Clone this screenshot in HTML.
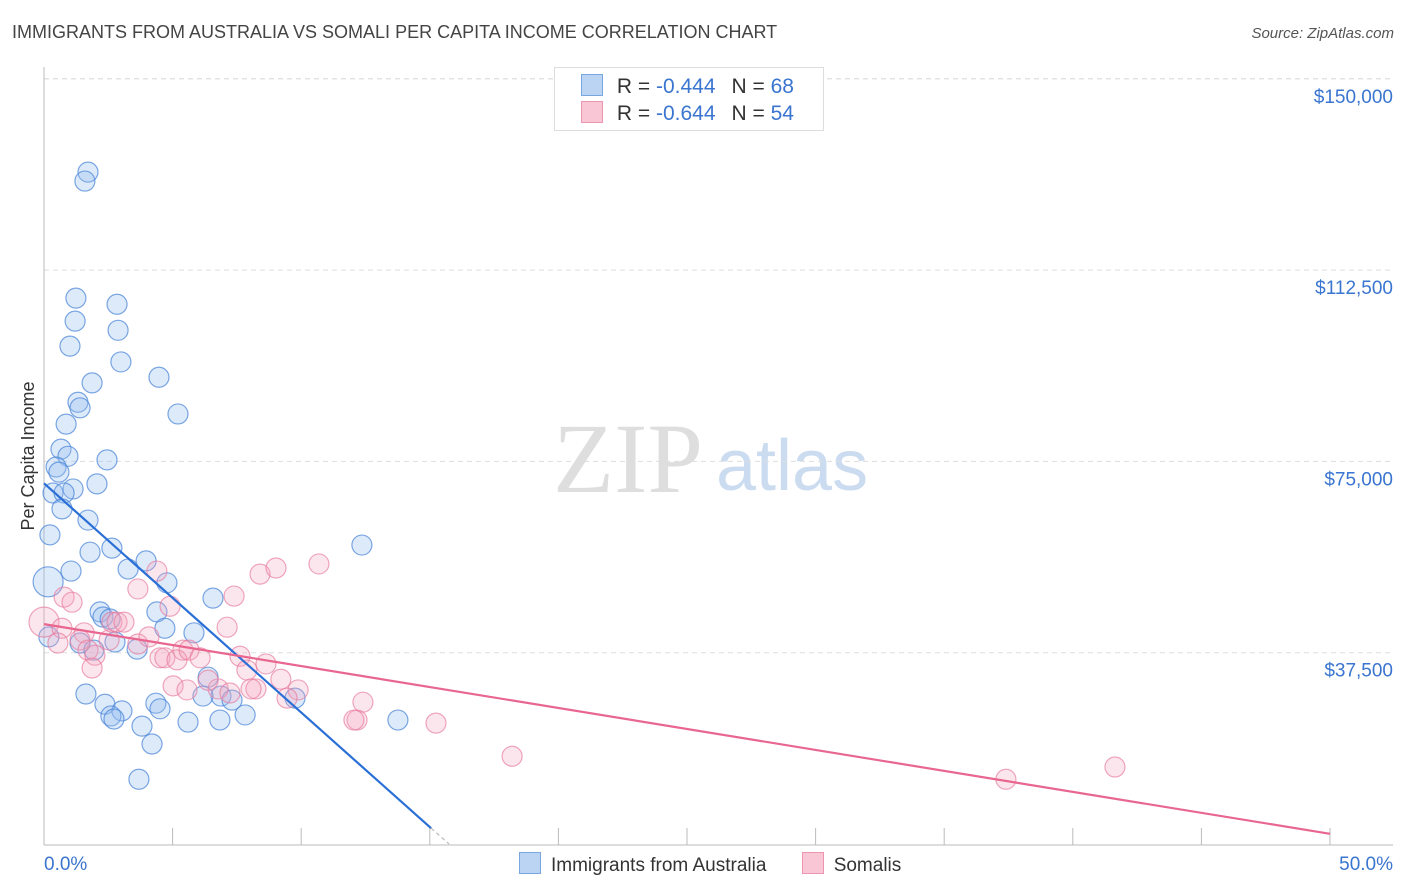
<!DOCTYPE html>
<html><head><meta charset="utf-8">
<style>
body{margin:0;background:#fff;font-family:"Liberation Sans",sans-serif;}
#wrap{position:relative;width:1406px;height:892px;overflow:hidden;}
.t{position:absolute;white-space:nowrap;}
</style></head>
<body>
<div id="wrap">
<div class="t" style="left:12px;top:22px;font-size:18px;color:#444;">IMMIGRANTS FROM AUSTRALIA VS SOMALI PER CAPITA INCOME CORRELATION CHART</div>
<div class="t" style="right:12px;top:25px;font-size:15px;color:#555;font-style:italic;">Source: ZipAtlas.com</div>
<svg id="chart" width="1406" height="892" style="position:absolute;left:0;top:0"></svg>
</div>
<script>
const yTicks=[37500,75000,112500,150000];
const yTickLabels=["$37,500","$75,000","$112,500","$150,000"];
const xTickLabels=["0.0%","50.0%"];
const blueX=[1.71,1.59,1.24,2.84,1.21,2.88,1.01,2.99,4.47,1.87,1.32,1.40,5.21,0.86,0.66,0.93,2.45,0.47,0.58,2.06,1.13,0.35,0.78,0.70,1.71,0.23,1.79,2.64,3.97,1.05,3.27,0.16,4.78,12.36,6.57,4.39,2.18,2.29,2.57,4.70,5.83,0.19,1.40,1.94,2.76,3.62,6.38,1.63,2.37,4.35,4.51,6.88,6.18,7.31,9.76,3.03,2.60,2.72,5.60,6.84,7.82,13.76,3.81,4.20,3.69];
const blueY=[131700,129950,107000,105800,102500,100700,97600,94500,91500,90400,86600,85500,84300,82300,77400,76000,75300,73900,72900,70600,69600,68800,68800,65700,63500,60600,57200,58000,55500,53500,53900,51400,51200,58600,48200,45500,45500,44500,44100,42300,41400,40600,39400,38000,39600,38200,32700,29400,27400,27600,26500,29000,29000,28200,28600,26100,25100,24500,23900,24300,25300,24300,23100,19600,12700];
const pinkX=[0,0.78,1.09,0.70,1.56,1.40,0.54,1.71,1.98,1.87,2.53,2.64,2.84,3.11,3.65,4.08,3.65,4.39,4.90,5.40,4.51,4.70,5.17,5.64,6.07,7.12,7.39,8.40,9.02,10.69,7.62,7.89,8.63,9.21,8.24,6.77,6.38,5.02,5.56,7.23,8.05,9.88,9.45,12.40,12.17,12.05,15.24,18.20,37.40,41.64];
const pinkY=[43500,48400,47400,42300,41400,40000,39400,38000,37000,34500,40000,43500,43500,43500,39200,40600,50000,53500,46600,38000,36500,36500,36100,38000,36500,42500,48600,52900,54100,54900,36800,34100,35300,32300,30400,30400,32100,31000,30200,29600,30400,30200,28600,27800,24300,24300,23700,17200,12700,15100];
const blueTrend=[[0,70700],[15.05,3100]];
const blueDash=[[15.05,3100],[15.75,0]];
const pinkTrend=[[0,43100],[50,2000]];

const X0=44,X1=1330,Y0=844,YPER=191.3/37500;
const sx=v=>X0+(X1-X0)*v/50;
const sy=v=>Y0-v*YPER;
const svg=document.getElementById('chart');
const NS='http://www.w3.org/2000/svg';
function mk(tag,at){const e=document.createElementNS(NS,tag);for(const k in at)e.setAttribute(k,at[k]);svg.appendChild(e);return e;}

let wm=mk('text',{x:553,y:492,'font-size':100,'font-family':'Liberation Serif,serif',fill:'#dedede'});wm.textContent='ZIP';


let wm2=mk('text',{x:716,y:490,'font-size':72,'font-family':'Liberation Sans,sans-serif',fill:'#ccdcf0'});wm2.textContent='atlas';



const gl=mk('line',{x1:44,x2:1393,y1:sy(150000),y2:sy(150000),stroke:'#ddd','stroke-dasharray':'5,4'});


yTicks.forEach((v,i)=>{
 const l=mk('line',{x1:44,x2:1393,y1:sy(v),y2:sy(v),stroke:'#ddd','stroke-dasharray':'5,4'});
 
 
 const t=mk('text',{x:1393,y:sy(v)+24,'text-anchor':'end','font-size':19,fill:'#3a75d0'});
 t.textContent=yTickLabels[i];
 
 
});
const ya=mk('line',{x1:44,x2:44,y1:67,y2:845,stroke:'#bbb'});


const xa=mk('line',{x1:44,x2:1393,y1:845,y2:845,stroke:'#bbb'});


for(let i=0;i<=10;i++){
 const tk=mk('line',{x1:sx(i*5),x2:sx(i*5),y1:828,y2:845,stroke:'#bbb'});
 
 
}
const xl0=mk('text',{x:44,y:870,'font-size':19,fill:'#3a75d0'});xl0.textContent=xTickLabels[0];


const xl1=mk('text',{x:1393,y:870,'text-anchor':'end','font-size':19,fill:'#3a75d0'});xl1.textContent=xTickLabels[1];


const yt=mk('text',{x:34,y:456,'font-size':18,fill:'#333','text-anchor':'middle',transform:'rotate(-90 34 456)'});yt.textContent='Per Capita Income';



function pts(xs,ys,fill,stroke,name){
 xs.forEach((x,i)=>{
  const big=(x<0.3&&(ys[i]>50000&&ys[i]<52000||ys[i]>43000&&ys[i]<44000));
  const c=mk('circle',{cx:sx(x),cy:sy(ys[i]),r:big?15:10,fill:fill,stroke:stroke,'stroke-width':1.2});
  
  
 });
}
pts(blueX,blueY,'rgba(150,190,240,0.32)','rgba(70,130,215,0.7)','australia-point');
pts(pinkX,pinkY,'rgba(245,165,190,0.28)','rgba(230,120,155,0.65)','somali-point');

const bl=mk('line',{x1:sx(blueTrend[0][0]),y1:sy(blueTrend[0][1]),x2:sx(blueTrend[1][0]),y2:sy(blueTrend[1][1]),stroke:'#2a6fd6','stroke-width':2.2});


const bd=mk('line',{x1:sx(blueDash[0][0]),y1:sy(blueDash[0][1]),x2:sx(blueDash[1][0]),y2:sy(blueDash[1][1]),stroke:'#bbb','stroke-width':1.2,'stroke-dasharray':'4,3'});


const pl=mk('line',{x1:sx(pinkTrend[0][0]),y1:sy(pinkTrend[0][1]),x2:sx(pinkTrend[1][0]),y2:sy(pinkTrend[1][1]),stroke:'#e8668f','stroke-width':2.2});


</script>
<div style="position:absolute;left:554px;top:67px;width:268px;height:62px;background:#fff;border:1px solid #ddd;font-size:21px;color:#333;">
 <div style="position:absolute;left:26px;top:6px;white-space:nowrap;">
  <span style="display:inline-block;width:20px;height:20px;background:#bcd4f4;border:1px solid #7aa6e0;vertical-align:-3px;"></span>
  <span style="margin-left:8px">R = </span><span style="color:#3a75d0">-0.444</span><span style="margin-left:16px">N = </span><span style="color:#3a75d0">68</span>
 </div>
 <div style="position:absolute;left:26px;top:33px;white-space:nowrap;">
  <span style="display:inline-block;width:20px;height:20px;background:#f8c6d5;border:1px solid #ec94b0;vertical-align:-3px;"></span>
  <span style="margin-left:8px">R = </span><span style="color:#3a75d0">-0.644</span><span style="margin-left:16px">N = </span><span style="color:#3a75d0">54</span>
 </div>
</div>
<div style="position:absolute;left:519px;top:852px;font-size:19px;color:#333;white-space:nowrap;">
 <span><span style="display:inline-block;width:20px;height:20px;background:#bcd4f4;border:1px solid #7aa6e0;vertical-align:-3px;"></span><span style="margin-left:10px">Immigrants from Australia</span></span>
 <span style="margin-left:30px"><span style="display:inline-block;width:20px;height:20px;background:#f8c6d5;border:1px solid #ec94b0;vertical-align:-3px;"></span><span style="margin-left:10px">Somalis</span></span>
</div>
</body></html>
